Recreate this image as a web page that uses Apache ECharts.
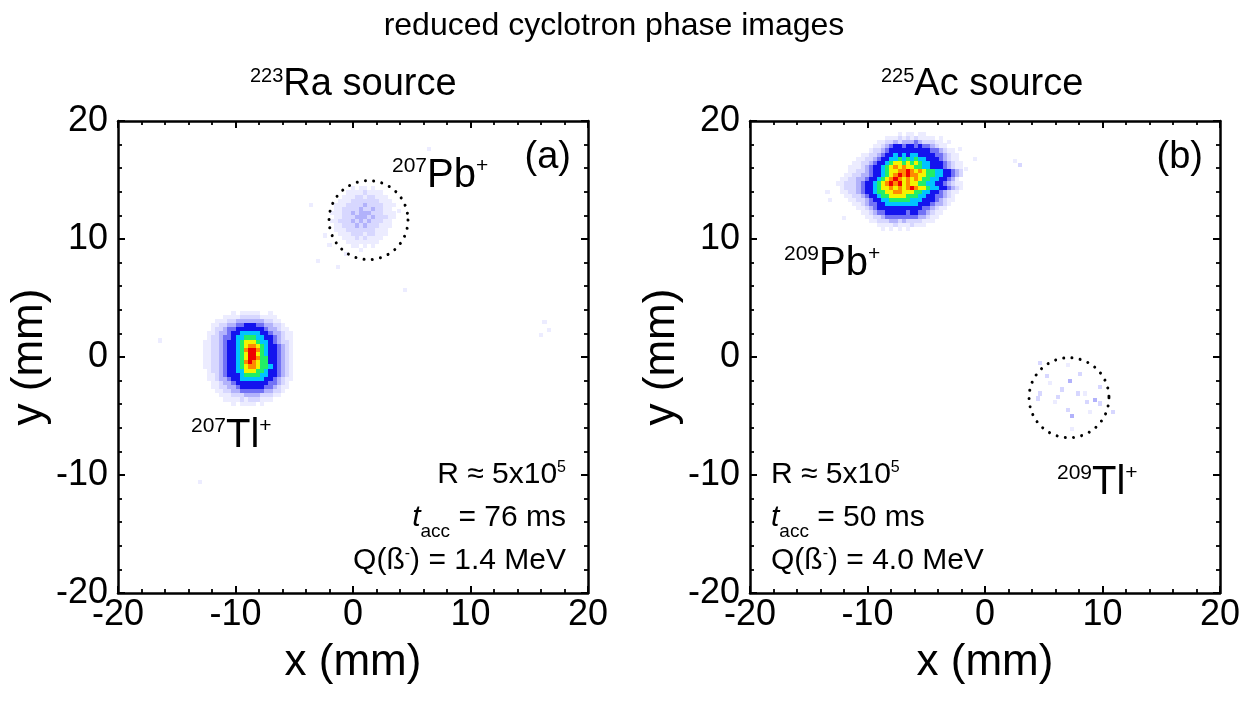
<!DOCTYPE html>
<html>
<head>
<meta charset="utf-8">
<script src="https://cdn.jsdelivr.net/npm/echarts@6/dist/echarts.min.js"></script>
<style>
  html, body { margin: 0; padding: 0; background: #fff; }
  #chart { width: 1253px; height: 704px; }
</style>
</head>
<body>
<div id="chart"></div>
<script>
// ---- data -------------------------------------------------------------
const AXIS_MIN = -20, AXIS_MAX = 20, AXIS_STEP = 10;
const AXIS_TICKS = [-20, -10, 0, 10, 20];
const BIN = 0.35; // detector pixel size (mm)

// count levels per pixel: '0'..'9', 'a' = 10 ; rows run from top (high y) down
// 207Tl+ cloud, 223Ra source
const tlCloudA = [
  "0000000101111100100000",
  "0000011112222211110000",
  "0001112233333332211000",
  "0011223344555443322100",
  "0012234455555554332110",
  "0112334556666655433211",
  "0122344566777665543211",
  "1122345567888766543221",
  "1122345567899876554321",
  "11223455679aa976554321",
  "11223455678aa876554321",
  "11223455678aa977554321",
  "11223455679a9877554321",
  "1122345567899877654321",
  "0122345566888776554321",
  "0112345556777766554321",
  "0112334556666665543211",
  "0011233455555555443210",
  "0011223345555554432110",
  "0001122334444443322100",
  "0000111222333322211000",
  "0000011112122211100000",
  "0000000101111010000000"
];
const tlCloudAOrigin = [-12.62, 3.75];   // centre of the top-left pixel (mm)

// 207Pb+ (weak), 223Ra source
const pbCloudA = [
  "0000010110100000",
  "0000111121111000",
  "0001112212211100",
  "0011122222221110",
  "0111222232222111",
  "0112222322322110",
  "1112232333222111",
  "0112223332322211",
  "1122232323222110",
  "0112223232221110",
  "0111222222211100",
  "0011122212211100",
  "0001112121111000",
  "0000111111110000",
  "0000011010100000",
  "0000000100000000"
];
const pbCloudAOrigin = [-1.78, 14.29];

// 209Pb+ cloud, 225Ac source
const pbCloudB = [
  "00000000000000001011011000000000",
  "00000000000001112121211110100000",
  "00000000000112232333432221101000",
  "00000000001123455455454432110000",
  "00000000012234555555555544321100",
  "00000001122345565656655554432110",
  "00000011223455667676766555432110",
  "00000112234556788787876655543211",
  "00001112345567898988776655543211",
  "000011223455678899a9898776655432",
  "0001122334556789a9a9988776655432",
  "001122334556789a989898776655431",
  "01122234556789a9a898877665543211",
  "0012223455678898989a988766554321",
  "0011223455677889988877665543211",
  "0001122345567788887776655443210",
  "0000112234556677777666555432110",
  "0000011234455666666665554332100",
  "0000001123455555555555443211000",
  "0000000112344555554554432110000",
  "0000000011223444444443321100000",
  "0000000001122233232222111000000",
  "0000000000011112111211100000000",
  "0000000000001010101000000000000"
];
const pbCloudBOrigin = [-12.87, 18.9];

// isolated counts [x, y, level]
const strayA = [
  [16.3, 3.0, 1], [16.7, 2.3, 1], [16.0, 1.9, 1], [-2.0, 9.5, 1], [-3.0, 8.1, 1],
  [-1.3, 7.6, 1], [4.4, 5.7, 1], [-13.0, -10.6, 1], [-16.4, 1.4, 1], [6.5, 17.6, 1],
  [3.9, 12.4, 1], [-3.6, 12.9, 1], [-2.4, 10.3, 1], [-0.6, 8.7, 1]
];
const strayB = [
  [4.68, -0.48, 2], [7.09, -0.68, 1], [5.25, -1.62, 2], [8.09, -1.47, 2], [7.23, -2.01, 3],
  [6.52, -2.75, 2], [4.68, -3.09, 2], [4.54, -3.52, 2], [7.94, -3.09, 2], [8.51, -3.09, 1],
  [9.79, -2.53, 2], [9.36, -3.66, 3], [9.79, -3.94, 2], [5.96, -3.80, 1], [7.38, -5.02, 3],
  [7.09, -4.51, 2], [8.94, -4.65, 1], [10.92, -4.65, 2], [7.38, -6.07, 1], [5.53, -2.24, 1],
  [6.21, -3.38, 2], [8.65, -3.80, 2],
  [2.55, 16.6, 1], [3.0, 16.3, 2], [-2.1, 17.6, 1], [-0.85, 16.8, 1], [-3.4, 18.0, 1],
  [-1.6, 15.9, 1], [-13.4, 14.0, 1], [-13.2, 13.3, 1], [-12.0, 11.8, 1]
];

// dotted marker circles [x, y, radius] (mm)
const ringA = [[1.32, 11.6, 3.36]];
const ringB = [[7.15, -3.45, 3.4]];

// trap centre
const centreA = [1.6, 1.6];
const centreB = [0.1, 4.8];

// ---- helpers ----------------------------------------------------------
const FONT = '"Liberation Sans", Arial, sans-serif';
const PALETTE = ['#ececff', '#d7d7ff', '#b2b2fb', '#7272f5', '#1414ee',
                 '#00c4ff', '#22ee66', '#f4f400', '#ff8a00', '#f00000'];

function gridCells(rows, origin) {
  const out = [];
  rows.forEach((row, r) => {
    for (let c = 0; c < row.length; c++) {
      const level = parseInt(row[c], 11);
      if (level > 0) out.push([origin[0] + c * BIN, origin[1] - r * BIN, level]);
    }
  });
  return out;
}

function renderCell(params, api) {
  const x = api.value(0), y = api.value(1);
  const a = api.coord([x - BIN / 2, y + BIN / 2]);
  const b = api.coord([x + BIN / 2, y - BIN / 2]);
  const x0 = Math.round(a[0]), y0 = Math.round(a[1]);
  return {
    type: 'rect',
    shape: { x: x0, y: y0, width: Math.round(b[0]) - x0, height: Math.round(b[1]) - y0 },
    style: { fill: api.visual('color') }
  };
}

function renderRing(params, api) {
  const c = api.coord([api.value(0), api.value(1)]);
  const r = api.size([api.value(2), 0])[0];
  return {
    type: 'circle',
    shape: { cx: c[0], cy: c[1], r: r },
    style: { fill: 'none', stroke: '#000', lineWidth: 3, lineDash: [0.001, 8.3], lineCap: 'round' }
  };
}

function axisPair(gridIndex, dim) {
  const base = {
    type: 'value', gridIndex, min: AXIS_MIN, max: AXIS_MAX, interval: AXIS_STEP,
    axisLine: { show: true, onZero: false, lineStyle: { color: '#000', width: 2.5 } },
    axisTick: { show: true, inside: true, length: 7, lineStyle: { color: '#000', width: 2 } },
    minorTick: { show: true, splitNumber: 5, length: 4, lineStyle: { color: '#000', width: 1.8 } },
    splitLine: { show: false },
    minorSplitLine: { show: false }
  };
  const main = Object.assign({}, base, {
    position: dim === 'x' ? 'bottom' : 'left',
    name: dim === 'x' ? 'x (mm)' : 'y (mm)',
    nameLocation: 'middle',
    nameGap: dim === 'x' ? 48 : 64,
    nameTextStyle: { fontSize: 44, color: '#000', fontFamily: FONT },
    axisLabel: {
      show: true, fontSize: 36, color: '#000', fontFamily: FONT, margin: dim === 'x' ? 4 : 10,
      formatter: v => AXIS_TICKS.includes(v) ? String(v) : ''
    }
  });
  const mirror = Object.assign({}, base, {
    position: dim === 'x' ? 'top' : 'right',
    axisLabel: { show: false }
  });
  return [main, mirror];
}

function richLabel(x, y, text, align, rich) {
  return { type: 'text', x, y, silent: true,
    style: { text, align, verticalAlign: 'top', fill: '#000', fontFamily: FONT, rich } };
}

// rich styles: superscripts hug the line top, subscripts the line bottom
const ionRich = {
  s: { fontSize: 21, fontFamily: FONT, fill: '#000', verticalAlign: 'top' },
  m: { fontSize: 40, fontFamily: FONT, fill: '#000', lineHeight: 48, verticalAlign: 'top' }
};
const srcRich = {
  s: { fontSize: 20, fontFamily: FONT, fill: '#000', verticalAlign: 'top' },
  m: { fontSize: 38, fontFamily: FONT, fill: '#000', lineHeight: 46, verticalAlign: 'top' }
};
const infoRich = {
  s: { fontSize: 16, fontFamily: FONT, fill: '#000', verticalAlign: 'top' },
  m: { fontSize: 30, fontFamily: FONT, fill: '#000', lineHeight: 36, verticalAlign: 'top' },
  i: { fontSize: 30, fontFamily: FONT, fill: '#000', lineHeight: 36, verticalAlign: 'top', fontStyle: 'italic' },
  b: { fontSize: 19, fontFamily: FONT, fill: '#000', lineHeight: 38, verticalAlign: 'bottom' }
};

function centreSeries(axisIndex, pos) {
  return {
    type: 'scatter', xAxisIndex: axisIndex, yAxisIndex: axisIndex, silent: true,
    symbolSize: 1, itemStyle: { opacity: 0 },
    label: { show: true, position: 'inside', color: '#000', fontSize: 24, fontFamily: FONT },
    data: [
      { value: pos, label: { formatter: 'x' } },
      { value: pos, label: { formatter: 'center', offset: [0, -29] } }
    ]
  };
}

// ---- chart ------------------------------------------------------------
const chart = echarts.init(document.getElementById('chart'), null, { renderer: 'canvas' });

const [xa, xaTop] = axisPair(0, 'x');
const [ya, yaRight] = axisPair(0, 'y');
const [xb, xbTop] = axisPair(1, 'x');
const [yb, ybRight] = axisPair(1, 'y');

chart.setOption({
  backgroundColor: '#fff',
  animation: false,
  grid: [
    { left: 118, top: 121, width: 470, height: 472 },
    { left: 750, top: 121, width: 470, height: 472 }
  ],
  xAxis: [xa, xaTop, xb, xbTop],
  yAxis: [ya, yaRight, yb, ybRight],
  visualMap: {
    type: 'continuous', show: false, min: 1, max: 10, dimension: 2,
    seriesIndex: [0, 3], inRange: { color: PALETTE }
  },
  series: [
    { type: 'custom', xAxisIndex: 0, yAxisIndex: 0, clip: true, silent: true,
      renderItem: renderCell, encode: { x: 0, y: 1 },
      data: strayA.concat(gridCells(pbCloudA, pbCloudAOrigin), gridCells(tlCloudA, tlCloudAOrigin)) },
    { type: 'custom', xAxisIndex: 0, yAxisIndex: 0, silent: true, z: 3,
      renderItem: renderRing, encode: { x: 0, y: 1 }, data: ringA },
    centreSeries(0, centreA),
    { type: 'custom', xAxisIndex: 2, yAxisIndex: 2, clip: true, silent: true,
      renderItem: renderCell, encode: { x: 0, y: 1 },
      data: strayB.concat(gridCells(pbCloudB, pbCloudBOrigin)) },
    { type: 'custom', xAxisIndex: 2, yAxisIndex: 2, silent: true, z: 3,
      renderItem: renderRing, encode: { x: 0, y: 1 }, data: ringB },
    centreSeries(2, centreB)
  ],
  graphic: [
    { type: 'text', x: 614, y: 26, silent: true,
      style: { text: 'reduced cyclotron phase images', fontSize: 32, fontFamily: FONT,
               fill: '#000', align: 'center', verticalAlign: 'middle' } },
    richLabel(250, 66, '{s|223}{m|Ra source}', 'left', srcRich),
    richLabel(881, 66, '{s|225}{m|Ac source}', 'left', srcRich),
    { type: 'text', x: 571, y: 158, silent: true,
      style: { text: '(a)', fontSize: 38, fontFamily: FONT, fill: '#000', align: 'right', verticalAlign: 'middle' } },
    { type: 'text', x: 1203, y: 158, silent: true,
      style: { text: '(b)', fontSize: 38, fontFamily: FONT, fill: '#000', align: 'right', verticalAlign: 'middle' } },
    richLabel(392, 156, '{s|207}{m|Pb}{s|+}', 'left', ionRich),
    richLabel(191, 416, '{s|207}{m|Tl}{s|+}', 'left', ionRich),
    richLabel(784, 244, '{s|209}{m|Pb}{s|+}', 'left', ionRich),
    richLabel(1057, 463, '{s|209}{m|Tl}{s|+}', 'left', ionRich),
    richLabel(566, 460, '{m|R ≈ 5x10}{s|5}', 'right', infoRich),
    richLabel(566, 503, '{i|t}{b|acc}{m| = 76 ms}', 'right', infoRich),
    richLabel(566, 546, '{m|Q(ß}{s|-}{m|) = 1.4 MeV}', 'right', infoRich),
    richLabel(771, 460, '{m|R ≈ 5x10}{s|5}', 'left', infoRich),
    richLabel(771, 503, '{i|t}{b|acc}{m| = 50 ms}', 'left', infoRich),
    richLabel(771, 546, '{m|Q(ß}{s|-}{m|) = 4.0 MeV}', 'left', infoRich)
  ]
});
</script>
</body>
</html>
